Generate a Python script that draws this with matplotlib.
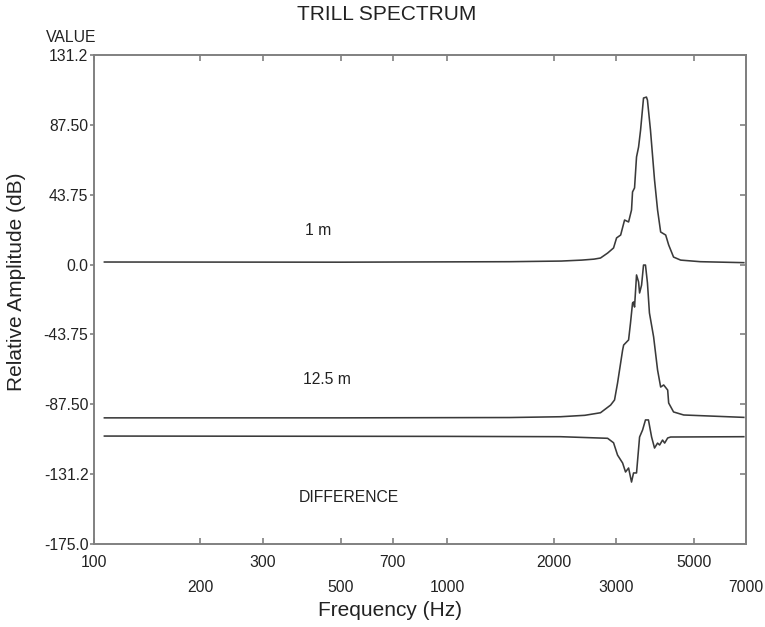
import matplotlib
matplotlib.use("Agg")
import matplotlib.pyplot as plt

plt.rcParams['font.family'] = ['Liberation Sans', 'DejaVu Sans']

# ---- data ----
freq_1m = [107, 500, 1500, 2100, 2400, 2600, 2712, 2841, 2953, 3012, 3093, 3173, 3257,
           3320, 3342, 3386, 3430, 3476, 3522, 3590, 3659, 3683, 3756, 3857, 3934,
           4014, 4148, 4229, 4366, 4572, 5200, 6900]
db_1m = [1.6, 1.5, 1.8, 2.2, 2.8, 3.4, 4.1, 7.2, 10.4, 16.7, 18.5, 27.9, 26.7,
         34.2, 45.5, 48.0, 67.4, 73.6, 84.3, 104.3, 104.9, 103.0, 84.3, 53.0, 34.2,
         20.4, 18.5, 12.3, 4.7, 2.8, 1.8, 1.2]

freq_12m = [107, 500, 1500, 2089, 2450, 2712, 2897, 2972, 3031, 3133, 3154, 3257, 3298,
            3342, 3364, 3386, 3430, 3476, 3499, 3545, 3590, 3636, 3683, 3731, 3834,
            3934, 4014, 4094, 4202, 4229, 4366, 4664, 6900]
db_12m = [-96.0, -96.0, -95.8, -95.3, -94.4, -92.8, -88.0, -84.8, -74.2, -53.5, -50.4, -47.2, -36.6,
          -24.1, -23.4, -26.6, -6.5, -10.9, -17.8, -12.8, -0.3, -0.3, -11.5, -30.3, -45.3,
          -66.0, -76.7, -75.4, -78.6, -86.7, -92.3, -94.2, -95.7]

freq_diff = [107, 1000, 2089, 2841, 2953, 3031, 3133, 3193, 3257, 3320, 3364, 3430,
             3499, 3568, 3636, 3707, 3784, 3857, 3934, 3987, 4064, 4120, 4202, 4284, 6900]
db_diff = [-107.4, -107.6, -107.8, -108.8, -111.6, -119.3, -124.3, -129.9, -127.4, -136.2, -130.5, -130.5,
           -108.0, -103.6, -97.3, -97.3, -108.0, -114.9, -111.8, -113.0, -109.9, -111.8, -108.6, -108.0, -107.8]

xticks_row1 = [100, 300, 700, 2000, 5000]
xticks_row2 = [200, 500, 1000, 3000, 7000]
yticks = [131.25, 87.5, 43.75, 0.0, -43.75, -87.5, -131.25, -175.0]
ytick_labels = ['131.2', '87.50', '43.75', '0.0', '-43.75', '-87.50', '-131.2', '-175.0']

series_labels = ['1 m', '12.5 m', 'DIFFERENCE']
label_pos_f = [431, 457, 528]
label_pos_db = [21.6, -71.7, -145.6]

# ---- figure ----
W, H = 765, 627
fig = plt.figure(figsize=(W / 100, H / 100), dpi=100)
ax = fig.add_axes([94 / W, 1 - 544 / H, (746 - 94) / W, (544 - 55) / H])

line_col = '#3a3a3a'
for f, d in [(freq_1m, db_1m), (freq_12m, db_12m), (freq_diff, db_diff)]:
    ax.plot(f, d, color=line_col, lw=1.15, solid_joinstyle='round')

ax.set_xscale('log')
ax.set_xlim(100, 7000)
ax.set_ylim(-175.0, 131.25)

spine_col = '#808080'
for s in ax.spines.values():
    s.set_color(spine_col)
    s.set_linewidth(1.4)

ax.set_xticks(xticks_row1, [str(v) for v in xticks_row1])
ax.set_xticks(xticks_row2, [str(v) for v in xticks_row2], minor=True)
ax.tick_params(axis='x', which='both', direction='in', top=True, bottom=True,
               length=4, width=1.2, color=spine_col, labelsize=11.3, labelcolor='#222222')
ax.tick_params(axis='x', which='major', pad=8)
ax.tick_params(axis='x', which='minor', pad=26)

ax.set_yticks(yticks, ytick_labels)
ax.tick_params(axis='y', which='both', direction='out', left=True, right=False,
               length=3, width=1.2, color=spine_col, pad=1, labelsize=11.3, labelcolor='#222222')
ax.yaxis.set_minor_locator(matplotlib.ticker.NullLocator())

sec = ax.secondary_yaxis('right')
sec.set_yticks(yticks)
sec.tick_params(axis='y', direction='in', length=4, width=1.2, color=spine_col, labelright=False)
for s in sec.spines.values():
    s.set_color(spine_col)
    s.set_linewidth(1.4)

for txt, f, d in zip(series_labels, label_pos_f, label_pos_db):
    ax.text(f, d, txt, ha='center', va='center', fontsize=11.3, color='#222222')

fig.text(387 / W, 1 - 14 / H, 'TRILL SPECTRUM', ha='center', va='center', fontsize=15, color='#222222')
fig.text(71 / W, 1 - 37 / H, 'VALUE', ha='center', va='center', fontsize=11.3, color='#222222')
fig.text(390 / W, 1 - 610 / H, 'Frequency (Hz)', ha='center', va='center', fontsize=15, color='#222222')
fig.text(17 / W, 1 - 282 / H, 'Relative Amplitude (dB)', ha='center', va='center', rotation=90,
         fontsize=15, color='#222222')

fig.savefig('out.png', dpi=100)
